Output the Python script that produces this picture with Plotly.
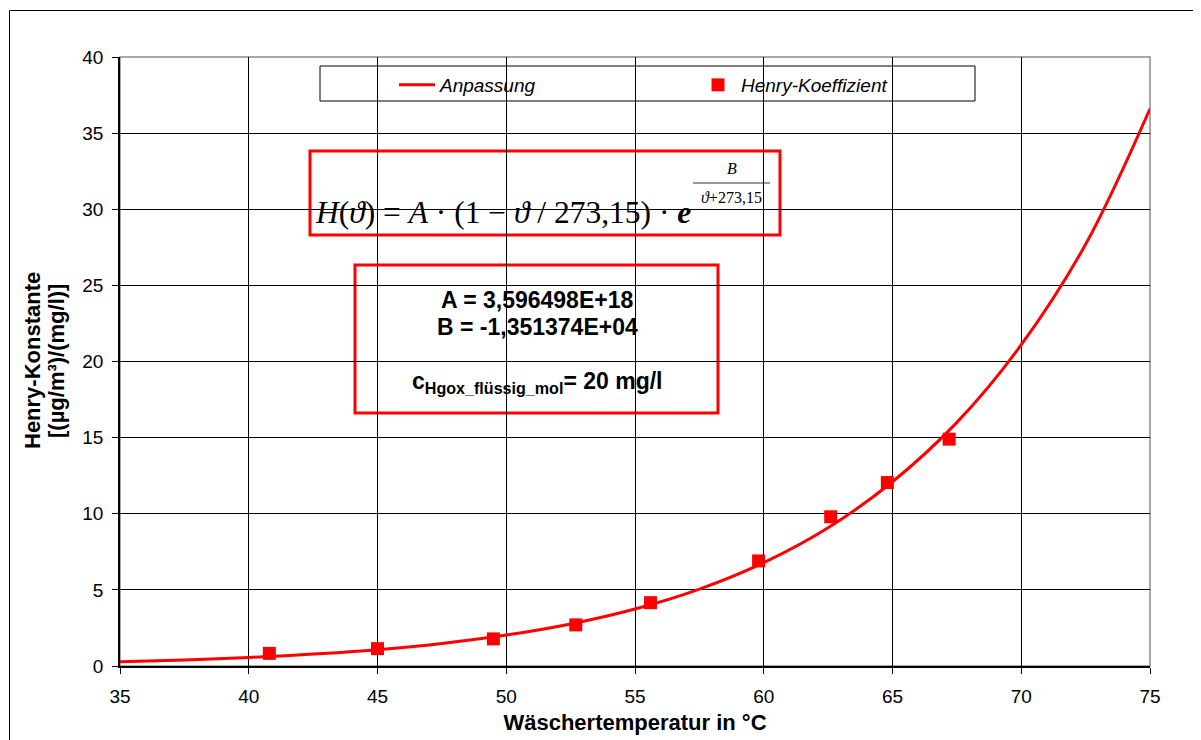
import plotly.graph_objects as go

# ---------------- data ----------------
temp_measured = [40.8, 45.0, 49.5, 52.7, 55.6, 59.8, 62.6, 64.8, 67.2]
henry_measured = [0.83, 1.14, 1.78, 2.70, 4.16, 6.90, 9.80, 12.05, 14.90]

temp_fit = [35, 37.5, 40, 42.5, 45, 47.5, 50, 52.5, 55, 57.5, 60, 62.5, 65, 67.5, 70, 72.5, 75]
henry_fit = [0.28, 0.40, 0.56, 0.78, 1.07, 1.48, 2.03, 2.76, 3.74, 5.05, 6.79, 9.08, 12.1, 16.0, 21.1, 27.7, 36.6]

x_ticks = [35, 40, 45, 50, 55, 60, 65, 70, 75]
y_ticks = [0, 5, 10, 15, 20, 25, 30, 35, 40]

name_fit = "Anpassung"
name_points = "Henry-Koeffizient"
x_title = "Wäschertemperatur in °C"
y_title_1 = "Henry-Konstante"
y_title_2 = "[(µg/m³)/(mg/l)]"
param_lines = ["A = 3,596498E+18", "B = -1,351374E+04"]
conc_text = "c<sub>Hgox_flüssig_mol</sub>= 20 mg/l"

# ---------------- layout geometry ----------------
OFF = 8                      # page body margin of the html page
W, H = 1201 - OFF, 740 - OFF
L, R, T, B = 112, 51, 49, 74
PW, PH = W - L - R, H - T - B
SANS = "Liberation Sans, Arial, sans-serif"
SERIF = "Liberation Serif, Times New Roman, serif"
RED = "#FF0000"


def px(xp):
    """page pixel x -> paper x"""
    return (xp - OFF - L) / PW


def py(yp):
    """page pixel y -> paper y"""
    return (H - B - (yp - OFF)) / PH


fig = go.Figure()
fig.add_trace(go.Scatter(
    x=temp_fit, y=henry_fit, mode="lines", name=f"<i>{name_fit}</i>",
    line=dict(color=RED, width=3, shape="spline", smoothing=1.0),
))
fig.add_trace(go.Scatter(
    x=temp_measured, y=henry_measured, mode="markers", name=f"<i>{name_points}</i>",
    marker=dict(color=RED, size=13, symbol="square", line=dict(width=0)),
))

shapes = []
# outer chart border
shapes.append(dict(type="rect", xref="paper", yref="paper",
                   x0=px(9.5), y0=py(760), x1=px(1230), y1=py(10.5),
                   line=dict(color="#000000", width=1), layer="below"))
# plot area frame (grey)
shapes.append(dict(type="rect", xref="paper", yref="paper",
                   x0=0, y0=0, x1=1, y1=1,
                   line=dict(color="#8c8c8c", width=1.5), layer="between"))
# legend box
shapes.append(dict(type="rect", xref="paper", yref="paper",
                   x0=px(320), y0=py(101), x1=px(975), y1=py(66),
                   line=dict(color="#000000", width=1), fillcolor="white", layer="between"))
# formula box
shapes.append(dict(type="rect", xref="paper", yref="paper",
                   x0=px(310), y0=py(235), x1=px(780), y1=py(151),
                   line=dict(color=RED, width=3), fillcolor="white", layer="between"))
# fraction bar in exponent
shapes.append(dict(type="line", xref="paper", yref="paper",
                   x0=px(693), y0=py(183), x1=px(770), y1=py(183),
                   line=dict(color="#333333", width=1.2), layer="above"))
# parameter box
shapes.append(dict(type="rect", xref="paper", yref="paper",
                   x0=px(355), y0=py(413), x1=px(718), y1=py(265),
                   line=dict(color=RED, width=3), fillcolor="white", layer="between"))

annotations = []
# formula
annotations.append(dict(
    xref="paper", yref="paper", x=px(313), y=py(212), xanchor="left", yanchor="middle",
    text="<i>H</i>(<i>ϑ</i>) = <i>A</i> · (1 − <i>ϑ</i> / 273,15) · <b><i>e</i></b>",
    showarrow=False, font=dict(family=SERIF, size=31.5, color="#000000")))
annotations.append(dict(
    xref="paper", yref="paper", x=px(732), y=py(168), xanchor="center", yanchor="middle",
    text="<i>B</i>", showarrow=False, font=dict(family=SERIF, size=16, color="#000000")))
annotations.append(dict(
    xref="paper", yref="paper", x=px(731), y=py(197), xanchor="center", yanchor="middle",
    text="<i>ϑ</i>+273,15", showarrow=False, font=dict(family=SERIF, size=16, color="#000000")))
# parameters
for txt, yp in zip(param_lines, [300, 327]):
    annotations.append(dict(
        xref="paper", yref="paper", x=px(537), y=py(yp), xanchor="center", yanchor="middle",
        text=f"<b>{txt}</b>", showarrow=False,
        font=dict(family=SANS, size=23, color="#000000")))
annotations.append(dict(
    xref="paper", yref="paper", x=px(537), y=py(382), xanchor="center", yanchor="middle",
    text=f"<b>{conc_text}</b>", showarrow=False,
    font=dict(family=SANS, size=23, color="#000000")))
# y axis title (two lines)
for txt, xp in zip([y_title_1, y_title_2], [33, 57]):
    annotations.append(dict(
        xref="paper", yref="paper", x=px(xp), y=py(361), xanchor="center", yanchor="middle",
        text=f"<b>{txt}</b>", textangle=-90, showarrow=False,
        font=dict(family=SANS, size=22, color="#000000")))

fig.update_layout(
    width=W, height=H,
    margin=dict(l=L, r=R, t=T, b=B, autoexpand=False),
    paper_bgcolor="white", plot_bgcolor="white",
    font=dict(family=SANS, size=19, color="#000000"),
    showlegend=True,
    legend=dict(
        orientation="h", x=px(394), y=py(85), xanchor="left", yanchor="middle",
        bgcolor="rgba(0,0,0,0)", borderwidth=0,
        font=dict(family=SANS, size=19, color="#000000"),
        itemwidth=36, entrywidth=250, entrywidthmode="pixels",
    ),
    shapes=shapes,
    annotations=annotations,
    xaxis=dict(
        range=[35, 75], tickvals=x_ticks, ticktext=[str(v) for v in x_ticks],
        showgrid=True, gridcolor="#000000", gridwidth=1,
        showline=True, linecolor="#000000", linewidth=1.5,
        ticks="outside", ticklen=6, tickcolor="#000000", tickwidth=1,
        ticklabelstandoff=6, zeroline=False,
        tickfont=dict(family=SANS, size=19, color="#000000"),
        title=dict(text=f"<b>{x_title}</b>", standoff=9,
                   font=dict(family=SANS, size=22, color="#000000")),
    ),
    yaxis=dict(
        range=[0, 40], tickvals=y_ticks, ticktext=[str(v) for v in y_ticks],
        showgrid=True, gridcolor="#000000", gridwidth=1,
        showline=True, linecolor="#000000", linewidth=1.5,
        ticks="outside", ticklen=6, tickcolor="#000000", tickwidth=1,
        ticklabelstandoff=5, zeroline=False,
        tickfont=dict(family=SANS, size=19, color="#000000"),
    ),
)

fig.write_html("out.html")
